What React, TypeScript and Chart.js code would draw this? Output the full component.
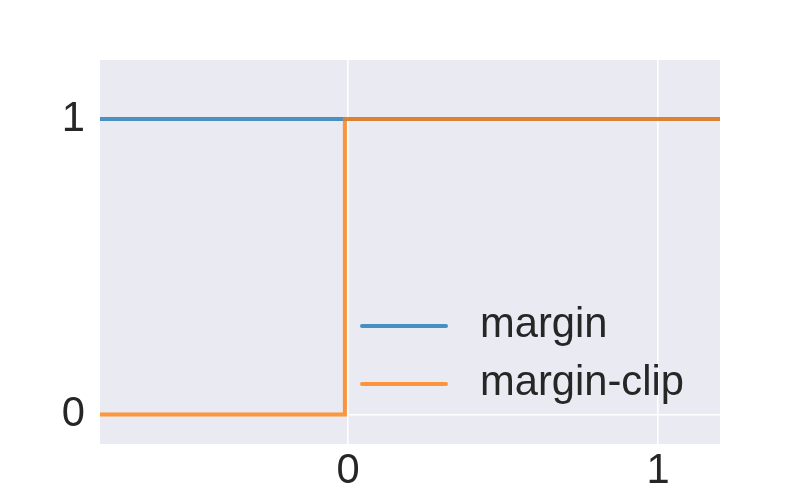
import React, { useEffect, useRef } from "react";
import { Chart, registerables } from "chart.js";

Chart.register(...registerables);

const marginX = [-0.8, 1.2];
const marginY = [1, 1];
const clipX = [-0.8, -0.01, -0.01, 1.2];
const clipY = [0, 0, 1, 1];
const xTicks = [0, 1];
const yTicks = [0, 1];
const seriesLabels = ["margin", "margin-clip"];

const FONT = "'Liberation Sans', Arial, sans-serif";
const TEXT = "#262626";
const BLUE = "rgba(31,119,180,0.8)";
const ORANGE = "rgba(255,127,14,0.8)";
const LW = 4;

const bgPlugin = {
  id: "bgPlugin",
  beforeDraw(chart: any) {
    const { ctx, chartArea } = chart;
    ctx.save();
    ctx.fillStyle = "#EAEAF2";
    ctx.fillRect(chartArea.left, chartArea.top, chartArea.right - chartArea.left, chartArea.bottom - chartArea.top);
    ctx.restore();
  },
};

const legendPlugin = {
  id: "innerLegend",
  afterDraw(chart: any) {
    const { ctx } = chart;
    const rows = [326, 384];
    ctx.save();
    chart.data.datasets.forEach((ds: any, i: number) => {
      const y = rows[i];
      ctx.strokeStyle = ds.borderColor;
      ctx.lineWidth = LW;
      ctx.lineCap = "round";
      ctx.beginPath();
      ctx.moveTo(362, y);
      ctx.lineTo(446, y);
      ctx.stroke();
      ctx.fillStyle = TEXT;
      ctx.font = `41.7px ${FONT}`;
      ctx.textBaseline = "middle";
      ctx.textAlign = "left";
      ctx.fillText(ds.label, 480, y);
    });
    ctx.restore();
  },
};

export default function App() {
  const ref = useRef<HTMLCanvasElement | null>(null);
  useEffect(() => {
    document.body.style.margin = "0";
    const chart = new Chart(ref.current as HTMLCanvasElement, {
      type: "line",
      data: {
        datasets: [
          {
            label: seriesLabels[0],
            data: marginX.map((x, i) => ({ x, y: marginY[i] })),
            borderColor: BLUE,
            borderWidth: LW,
            pointRadius: 0,
            fill: false,
            order: 2,
          },
          {
            label: seriesLabels[1],
            data: clipX.map((x, i) => ({ x, y: clipY[i] })),
            borderColor: ORANGE,
            borderWidth: LW,
            pointRadius: 0,
            fill: false,
            order: 1,
          },
        ],
      },
      options: {
        animation: false,
        responsive: false,
        layout: { padding: { top: 60, right: 80, left: 0, bottom: 0 } },
        plugins: { legend: { display: false }, tooltip: { enabled: false } },
        scales: {
          x: {
            type: "linear",
            min: -0.8,
            max: 1.2,
            afterBuildTicks: (s: any) => {
              s.ticks = xTicks.map((v) => ({ value: v }));
            },
            afterFit: (s: any) => {
              s.height = 56;
            },
            grid: { color: "#ffffff", lineWidth: 1.6, drawTicks: false },
            border: { display: false },
            ticks: {
              color: TEXT,
              font: { family: FONT, size: 41.7 },
              padding: 2,
              maxRotation: 0,
              callback: (v: any) => String(v),
            },
          },
          y: {
            type: "linear",
            min: -0.1,
            max: 1.2,
            afterBuildTicks: (s: any) => {
              s.ticks = yTicks.map((v) => ({ value: v }));
            },
            afterFit: (s: any) => {
              s.width = 100;
            },
            grid: { color: "#ffffff", lineWidth: 1.6, drawTicks: false },
            border: { display: false },
            ticks: {
              color: TEXT,
              font: { family: FONT, size: 41.7 },
              padding: 15,
              callback: (v: any) => String(v),
            },
          },
        },
      },
      plugins: [bgPlugin, legendPlugin],
    });
    return () => chart.destroy();
  }, []);
  return <canvas ref={ref} width={800} height={500} style={{ display: "block" }} />;
}
